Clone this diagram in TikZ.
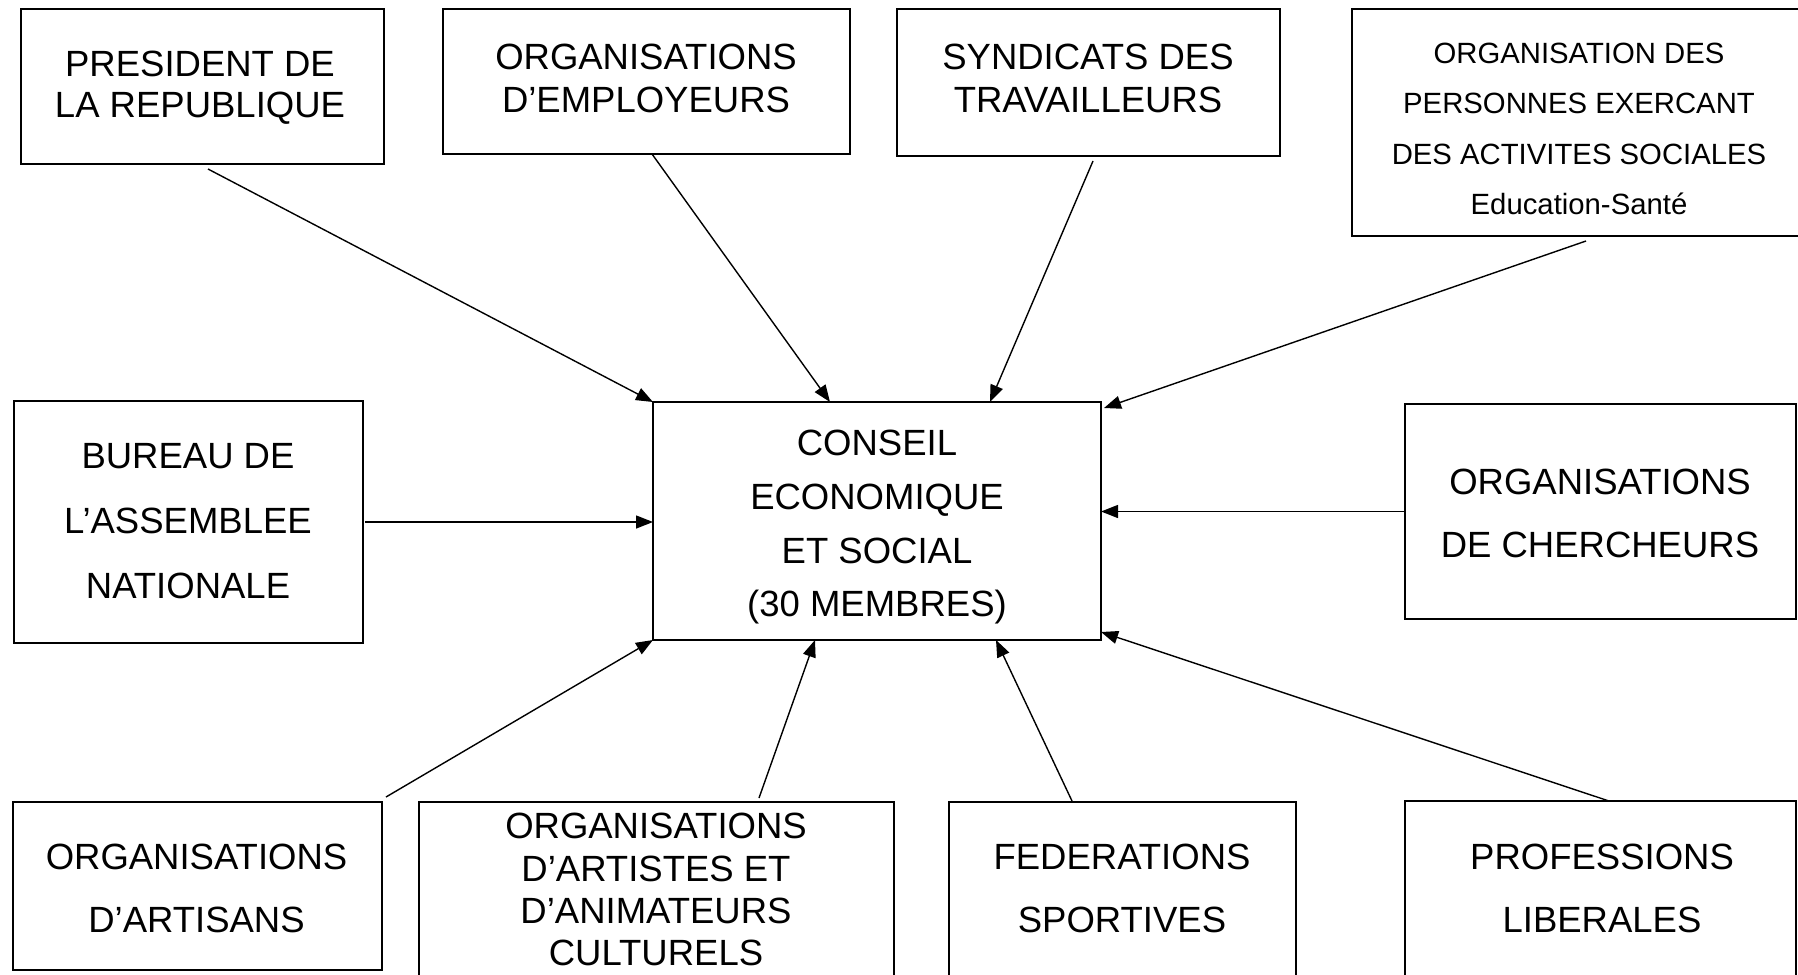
\documentclass[tikz,border=0pt]{standalone}
\usepackage{fontspec}
\setmainfont{Liberation Sans}
\usetikzlibrary{arrows.meta}
\tikzset{
  box/.style={draw, line width=1.6pt, rectangle, inner sep=0pt, outer sep=0pt},
  lbl/.style={align=center, inner sep=0pt, anchor=north},
  conn/.style={line width=1.4pt, -{Triangle[length=17pt,width=13pt]}},
}
\newcommand{\fzA}[1]{\fontsize{36.5}{#1}\selectfont}
\begin{document}
\begin{tikzpicture}[x=1pt,y=-1pt]
\useasboundingbox (0,0) rectangle (1798,974);
% boxes
\node[box, minimum width=363pt, minimum height=155pt] (pres) at (202.5,86.5) {};
\node[box, minimum width=407pt, minimum height=145pt] (emp) at (646.5,81.5) {};
\node[box, minimum width=383pt, minimum height=147pt] (syn) at (1088.5,82.5) {};
\node[box, minimum width=453pt, minimum height=227pt] (per) at (1578.5,122.5) {};
\node[box, minimum width=349pt, minimum height=242pt] (bur) at (188.5,522) {};
\node[box, minimum width=448pt, minimum height=238pt] (C) at (877,521) {};
\node[box, minimum width=391pt, minimum height=215pt] (cher) at (1600.5,511.5) {};
\node[box, minimum width=369pt, minimum height=168pt] (art) at (197.5,886) {};
\node[box, minimum width=475pt, minimum height=188pt] (ats) at (656.5,896) {};
\node[box, minimum width=347pt, minimum height=188pt] (fed) at (1122.5,896) {};
\node[box, minimum width=391pt, minimum height=189pt] (pro) at (1600.5,895.5) {};
% texts
\node[lbl, font=\fzA{41}] (tpres) at (200,51) {PRESIDENT DE\\LA REPUBLIQUE};
\node[lbl, font=\fzA{43}] (temp) at (646,44) {ORGANISATIONS\\D’EMPLOYEURS};
\node[lbl, font=\fzA{43}] (tsyn) at (1088,44) {SYNDICATS DES\\TRAVAILLEURS};
\node[lbl, font=\fontsize{29.3}{50.5}\selectfont] (tper) at (1579,42.5) {ORGANISATION DES\\PERSONNES EXERCANT\\DES ACTIVITES SOCIALES\\Education-Santé};
\node[lbl, font=\fzA{65}] (tbur) at (188,443) {BUREAU DE\\L’ASSEMBLEE\\NATIONALE};
\node[lbl, font=\fzA{53.7}] (tC) at (877,430) {CONSEIL\\ECONOMIQUE\\ET SOCIAL\\(30 MEMBRES)};
\node[lbl, font=\fzA{63}] (tcher) at (1600,469) {ORGANISATIONS\\DE CHERCHEURS};
\node[lbl, font=\fzA{63}] (tart) at (196.5,844) {ORGANISATIONS\\D’ARTISANS};
\node[lbl, font=\fzA{42.4}] (tats) at (656,813) {ORGANISATIONS\\D’ARTISTES ET\\D’ANIMATEURS\\CULTURELS};
\node[lbl, font=\fzA{63}] (tfed) at (1122,844) {FEDERATIONS\\SPORTIVES};
\node[lbl, font=\fzA{63}] (tpro) at (1602,844) {PROFESSIONS\\LIBERALES};
% connectors
\draw[conn] ([shift={(187,5)}]pres.south west) -- (C.north west);
\draw[conn] ([shift={(209,0)}]emp.south west) -- ([shift={(177,0)}]C.north west);
\draw[conn] ([shift={(196,5)}]syn.south west) -- ([shift={(337,0)}]C.north west);
\draw[conn] ([shift={(234,5)}]per.south west) -- ([shift={(3,6)}]C.north east);
\draw[conn] ([shift={(2,0)}]bur.east) -- (C.west |- bur.east);
\draw[conn] (cher.west) -- (C.east |- cher.west);
\draw[conn] ([shift={(4,-5)}]art.north east) -- (C.south west);
\draw[conn] ([shift={(340,-4)}]ats.north west) -- ([shift={(162,0)}]C.south west);
\draw[conn] ([shift={(123,-1)}]fed.north west) -- ([shift={(343,0)}]C.south west);
\draw[conn] ([shift={(204,0)}]pro.north west) -- ([shift={(0,-8)}]C.south east);
\end{tikzpicture}
\end{document}
